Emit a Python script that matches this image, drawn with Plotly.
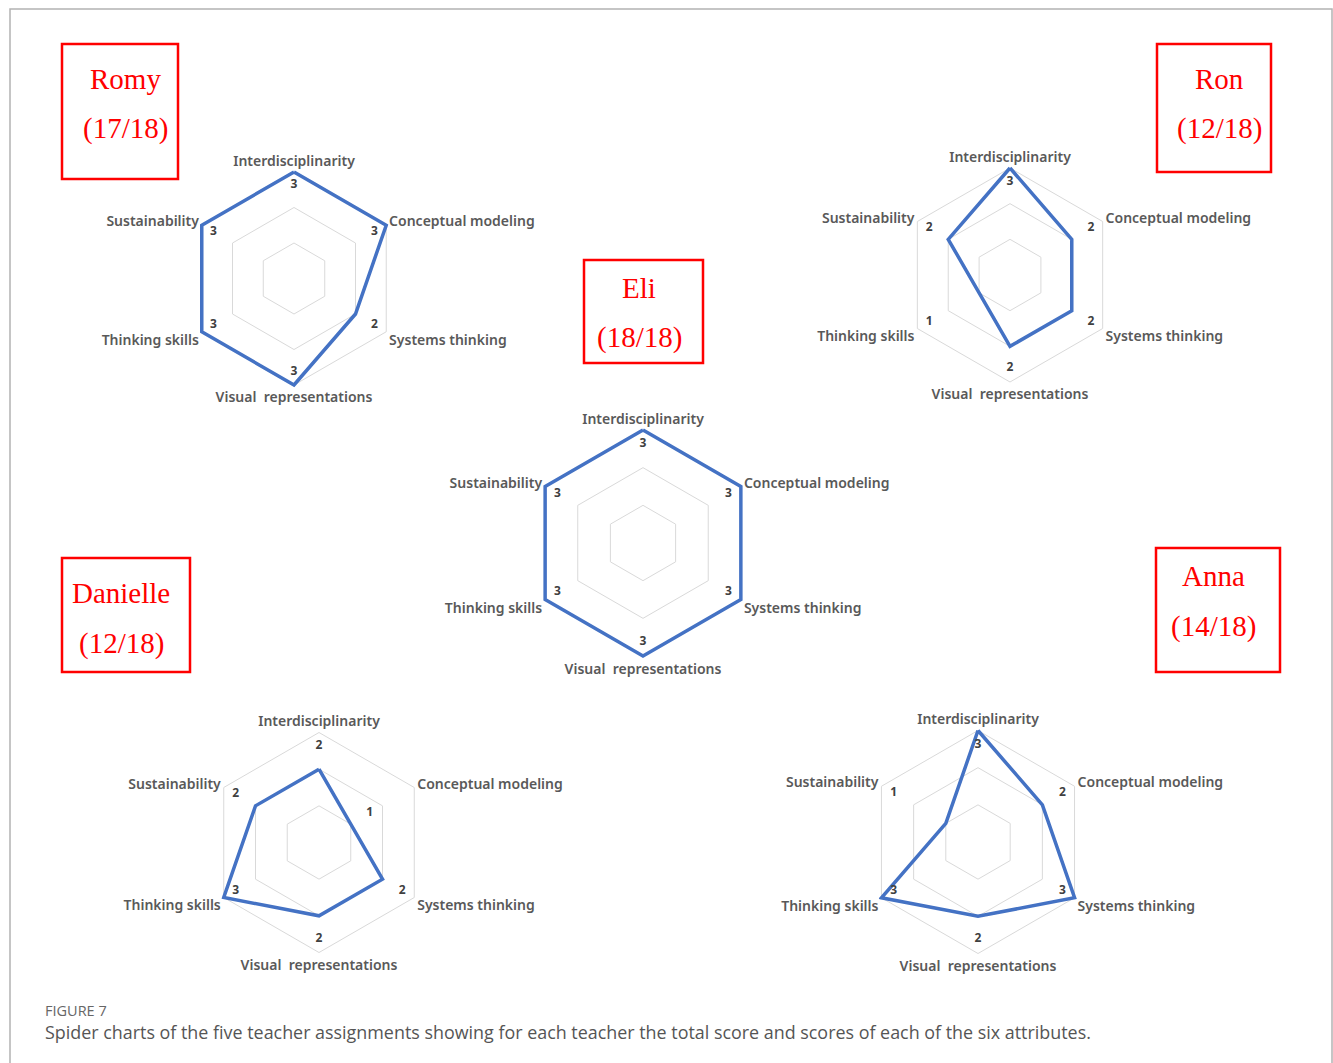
import plotly.graph_objects as go

W, H = 1333, 1063

categories = ["Interdisciplinarity", "Conceptual modeling", "Systems thinking",
              "Visual  representations", "Thinking skills", "Sustainability"]
teachers = ["Romy", "Ron", "Eli", "Danielle", "Anna"]
romy = [3, 3, 2, 3, 3, 3]
ron = [3, 2, 2, 2, 1, 2]
eli = [3, 3, 3, 3, 3, 3]
danielle = [2, 1, 2, 2, 3, 2]
anna = [3, 2, 3, 2, 3, 1]
max_score = 18

scores = {"Romy": romy, "Ron": ron, "Eli": eli, "Danielle": danielle, "Anna": anna}

# layout constants (pixel centres / radii of each spider at score 3)
centers = {"Romy": (294, 278.5, 106.5), "Ron": (1010, 275, 107), "Eli": (643, 543, 113),
           "Danielle": (319, 842.5, 110), "Anna": (978, 842, 111.5)}
boxes = {"Romy": (62, 44, 178, 179, 125, 79, 129),
         "Ron": (1157, 44, 1271, 172, 1219, 79, 129),
         "Eli": (584, 260, 703, 363, 639, 288, 338),
         "Danielle": (62, 558, 190, 672, 121, 593, 643),
         "Anna": (1156, 548, 1280, 672, 1213, 576, 626)}
label_r_default = 2.62
label_r_override = {("Danielle", 1): 1.6}
RMAX = 3.08  # a little headroom so the outer line is not clipped

LINE = "#4472C4"
GRID = "#d9d9d9"

fig = go.Figure()
layout_polars = {}
for i, t in enumerate(teachers):
    pid = "polar" if i == 0 else f"polar{i+1}"
    vals = scores[t]
    fig.add_trace(go.Scatterpolar(
        r=vals + vals[:1], theta=categories + categories[:1], mode="lines",
        line=dict(color=LINE, width=3.5), subplot=pid, showlegend=False,
        hoverinfo="skip", cliponaxis=False))
    lr = [label_r_override.get((t, k), label_r_default) for k in range(len(vals))]
    fig.add_trace(go.Scatterpolar(
        r=lr, theta=categories, mode="text", text=[str(v) for v in vals],
        textfont=dict(family="Noto Sans", size=12, color="#404040", weight="bold"),
        subplot=pid, showlegend=False, hoverinfo="skip", cliponaxis=False))
    cx, cy, R3 = centers[t]
    R = R3 * RMAX / 3
    layout_polars[pid] = dict(
        domain=dict(x=[(cx - R) / W, (cx + R) / W], y=[1 - (cy + R) / H, 1 - (cy - R) / H]),
        gridshape="linear", bgcolor="white",
        radialaxis=dict(range=[0, RMAX], tickvals=[1, 2, 3], showticklabels=False, ticks="",
                        showline=False, gridcolor=GRID, gridwidth=1),
        angularaxis=dict(direction="clockwise", rotation=90, showgrid=False, ticks="",
                         showline=False,
                         tickfont=dict(family="Noto Sans", size=14, color="#595959", weight=600)),
    )
    x0, y0, x1, y1, tx, ny, sy = boxes[t]
    fig.add_shape(type="rect", xref="paper", yref="paper",
                  x0=x0 / W, x1=x1 / W, y0=1 - y0 / H, y1=1 - y1 / H,
                  line=dict(color="#ff0000", width=2.5))
    total = sum(vals)
    fig.add_annotation(x=tx / W, y=1 - ny / H, xref="paper", yref="paper", text=t,
                       showarrow=False, xanchor="center", yanchor="middle",
                       font=dict(family="Liberation Serif", size=29, color="#ff0000"))
    fig.add_annotation(x=tx / W, y=1 - sy / H, xref="paper", yref="paper",
                       text=f"({total}/{max_score})", showarrow=False,
                       xanchor="center", yanchor="middle",
                       font=dict(family="Liberation Serif", size=29, color="#ff0000"))

# outer frame
fig.add_shape(type="rect", xref="paper", yref="paper", x0=10 / W, x1=1332 / W,
              y0=1 - 1080 / H, y1=1 - 9 / H, line=dict(color="#b3b3b3", width=1.5))

fig.add_annotation(x=43 / W, y=1 - 1010 / H, xref="paper", yref="paper", text="FIGURE 7",
                   showarrow=False, xanchor="left", yanchor="middle",
                   font=dict(family="Open Sans", size=14.5, color="#666666"))
fig.add_annotation(x=43 / W, y=1 - 1032 / H, xref="paper", yref="paper",
                   text="Spider charts of the five teacher assignments showing for each teacher the total score and scores of each of the six attributes.",
                   showarrow=False, xanchor="left", yanchor="middle",
                   font=dict(family="Open Sans", size=17.9, color="#555555"))

fig.update_layout(width=W, height=H, margin=dict(l=0, r=0, t=0, b=0),
                  paper_bgcolor="white", plot_bgcolor="white", **layout_polars)
fig.write_html("out.html", config={"displayModeBar": False},
               post_script="document.body.style.margin='0';document.body.style.overflow='hidden';")
